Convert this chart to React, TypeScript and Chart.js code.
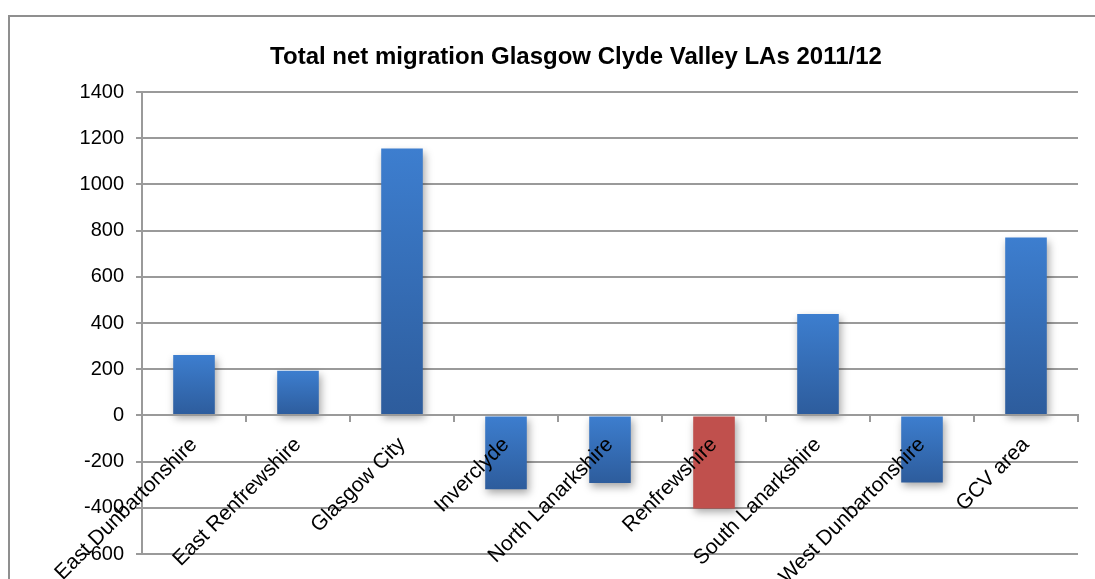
import React, { useEffect, useRef } from "react";
import { Chart, registerables } from "chart.js";

Chart.register(...registerables);

const TITLE = "Total net migration Glasgow Clyde Valley LAs 2011/12";
const categories = [
  "East Dunbartonshire",
  "East Renfrewshire",
  "Glasgow City",
  "Inverclyde",
  "North Lanarkshire",
  "Renfrewshire",
  "South Lanarkshire",
  "West Dunbartonshire",
  "GCV area",
];
const netMigration = [262, 193, 1155, -320, -293, -403, 439, -290, 770];
const highlighted = ["Renfrewshire"];
const yMin = -600;
const yMax = 1400;
const yStep = 200;

const FONT = "'Liberation Sans', Arial, Helvetica, sans-serif";
const GRID = "#9a9a9a";

const shadowPlugin = {
  id: "barShadow",
  beforeDatasetsDraw(chart: any) {
    const ctx = chart.ctx;
    ctx.save();
    ctx.shadowColor = "rgba(0,0,0,0.35)";
    ctx.shadowBlur = 8;
    ctx.shadowOffsetX = 2;
    ctx.shadowOffsetY = 4;
  },
  afterDatasetsDraw(chart: any) {
    chart.ctx.restore();
  },
};

export default function App() {
  const ref = useRef<HTMLCanvasElement | null>(null);

  useEffect(() => {
    if (!ref.current) return;
    const chart = new Chart(ref.current, {
      type: "bar",
      data: {
        labels: categories,
        datasets: [
          {
            data: netMigration,
            barPercentage: 0.4,
            categoryPercentage: 1,
            borderWidth: 0,
            backgroundColor: (c: any) => {
              const label = categories[c.dataIndex];
              if (highlighted.includes(label)) return "#c0504d";
              const ys = c.chart.scales?.y;
              const v = c.raw;
              if (!ys || typeof v !== "number") return "#3570b8";
              const p0 = ys.getPixelForValue(0);
              const p1 = ys.getPixelForValue(v);
              const top = Math.min(p0, p1);
              const bot = Math.max(p0, p1);
              if (!isFinite(top) || !isFinite(bot) || bot - top < 1) return "#3570b8";
              const g = c.chart.ctx.createLinearGradient(0, top, 0, bot);
              g.addColorStop(0, "#3d7ecf");
              g.addColorStop(1, "#2d5c9c");
              return g;
            },
          },
        ],
      },
      options: {
        animation: false,
        responsive: false,
        maintainAspectRatio: false,
        layout: { padding: { left: 74, right: 17, top: 0, bottom: 25 } },
        plugins: {
          legend: { display: false },
          tooltip: { enabled: false },
          title: {
            display: true,
            text: TITLE,
            color: "#000",
            font: { family: FONT, size: 24, weight: "bold" },
            padding: { top: 43, bottom: 20.2 },
          },
        },
        scales: {
          x: {
            type: "category",
            position: { y: 0 } as any,
            offset: true,
            grid: {
              display: true,
              drawOnChartArea: false,
              drawTicks: true,
              tickLength: 6,
              color: GRID,
              lineWidth: 2,
              offset: true,
            },
            border: { display: true, color: GRID, width: 2, z: 1 },
            ticks: {
              color: "#000",
              font: { family: FONT, size: 21 },
              minRotation: 45,
              maxRotation: 45,
              autoSkip: false,
              padding: 11,
              z: 2,
            },
            afterFit: (s: any) => {
              s.paddingLeft = 0;
              s.paddingRight = 0;
              s.paddingTop = 0;
              s.paddingBottom = 0;
            },
          },
          y: {
            min: yMin,
            max: yMax,
            grid: {
              color: GRID,
              lineWidth: 2,
              drawTicks: true,
              tickLength: 6,
            },
            border: { display: true, color: GRID, width: 2 },
            ticks: {
              stepSize: yStep,
              color: "#000",
              font: { family: FONT, size: 20 },
              padding: 12,
              callback: (v: any) => String(v),
            },
            afterFit: (s: any) => {
              s.width = 68;
              s.paddingTop = 0;
              s.paddingBottom = 0;
            },
          },
        },
      },
      plugins: [shadowPlugin],
    });
    return () => chart.destroy();
  }, []);

  return (
    <div
      style={{
        position: "fixed",
        left: 0,
        top: 0,
        width: 1095,
        height: 579,
        overflow: "hidden",
        background: "#fff",
      }}
    >
      <div
        style={{
          position: "absolute",
          left: 8,
          top: 15,
          width: 1200,
          height: 700,
          border: "2px solid #8f8f8f",
          boxSizing: "border-box",
        }}
      />
      <canvas
        ref={ref}
        width={1095}
        height={579}
        style={{ position: "absolute", left: 0, top: 0, width: 1095, height: 579 }}
      />
    </div>
  );
}
